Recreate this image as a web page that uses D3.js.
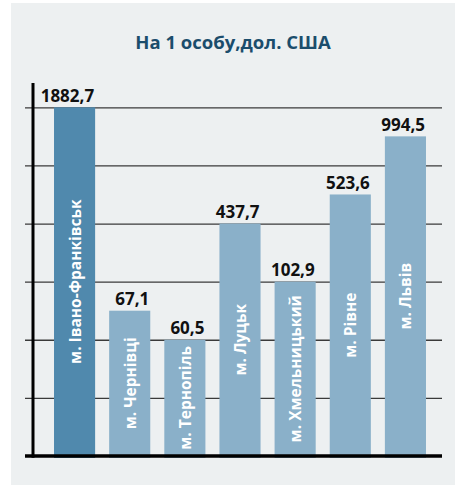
<!DOCTYPE html>
<html>
<head>
<meta charset="utf-8">
<script src="https://cdn.jsdelivr.net/npm/d3@7"></script>
<style>
  html, body { margin: 0; padding: 0; background: #ffffff; }
  svg { display: block; }
</style>
</head>
<body>
<svg id="chart" width="455" height="485"></svg>
<script>
// ---- data ----
const title = "На 1 особу,дол. США";
const cities = ["м. Івано-Франківськ", "м. Чернівці", "м. Тернопіль", "м. Луцьк", "м. Хмельницький", "м. Рівне", "м. Львів"];
const values = [1882.7, 67.1, 60.5, 437.7, 102.9, 523.6, 994.5];
const valueLabels = ["1882,7", "67,1", "60,5", "437,7", "102,9", "523,6", "994,5"];
// the picture's value axis is not linear: calibration read off the gridlines
const scaleBreaks = [0, 60.5, 67.1, 102.9, 437.7, 523.6, 994.5, 1882.7];
const scaleLevels = [0, 2, 2.5, 3, 4, 4.5, 5.5, 6];
const gridTicks = [0, 1, 2, 3, 4, 5, 6];

// ---- layout ----
const W = 455, H = 485;
const svg = d3.select("#chart");

svg.append("rect").attr("x", 11).attr("y", 3).attr("width", W - 11).attr("height", H - 3)
  .attr("fill", "#edf0f1");

svg.append("text")
  .attr("x", 233).attr("y", 49)
  .attr("text-anchor", "middle")
  .attr("font-family", "'Open Sans', sans-serif")
  .attr("font-weight", 700)
  .attr("font-size", 18.5)
  .attr("fill", "#1b4d6c")
  .text(title);

const baseY = 456, topY = 107.3;
const gridY = d3.scaleLinear().domain([0, 6]).range([baseY, topY]);
const y = d3.scaleLinear().domain(scaleBreaks).range(scaleLevels.map(gridY));

const x = d3.scaleBand().domain(cities).range([47, 433]).paddingInner(14 / 55).paddingOuter(14 / 110);

// gridlines
const yAxis = d3.axisLeft(gridY).tickValues(gridTicks.slice(1)).tickSize(-(442 - 25)).tickFormat("");
const gAxis = svg.append("g").attr("transform", "translate(25,0)").call(yAxis);
gAxis.select(".domain").remove();
gAxis.selectAll(".tick line").attr("stroke", "#3a3a3a").attr("stroke-width", 1.3);

// bars
svg.append("g").selectAll("rect").data(cities).join("rect")
  .attr("x", d => x(d))
  .attr("width", x.bandwidth())
  .attr("y", (d, i) => y(values[i]))
  .attr("height", (d, i) => baseY - y(values[i]) + 2)
  .attr("fill", (d, i) => i === 0 ? "#5089ad" : "#8ab0c9");

// value labels (right-aligned to bar edge, as in the picture)
svg.append("g").selectAll("text").data(cities).join("text")
  .attr("x", d => x(d) + x.bandwidth() - 1)
  .attr("y", (d, i) => y(values[i]) - 5.5)
  .attr("text-anchor", "end")
  .attr("font-family", "'Open Sans', sans-serif")
  .attr("font-weight", 700)
  .attr("font-size", 17)
  .attr("fill", "#111")
  .text((d, i) => valueLabels[i]);

// in-bar city labels
svg.append("g").selectAll("text").data(cities).join("text")
  .attr("transform", (d, i) => {
    const cx = x(d) + x.bandwidth() / 2;
    const cy = (y(values[i]) + baseY) / 2;
    return `translate(${cx},${cy}) rotate(-90)`;
  })
  .attr("text-anchor", "middle")
  .attr("dominant-baseline", "central")
  .attr("font-family", "'Open Sans', sans-serif")
  .attr("font-weight", 700)
  .attr("font-size", 15.5)
  .attr("fill", "#ffffff")
  .text(d => d);

// axes lines
svg.append("line").attr("x1", 25).attr("x2", 442).attr("y1", baseY).attr("y2", baseY)
  .attr("stroke", "#000").attr("stroke-width", 3.5);
svg.append("line").attr("x1", 33).attr("x2", 33).attr("y1", 83).attr("y2", baseY + 1.7)
  .attr("stroke", "#000").attr("stroke-width", 3);
</script>
</body>
</html>
